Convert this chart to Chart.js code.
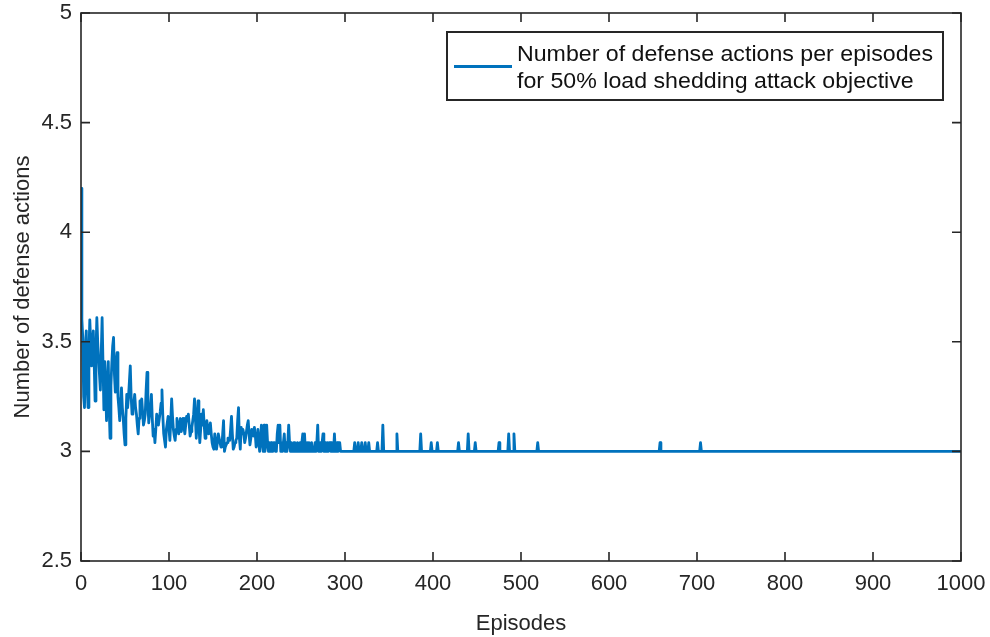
<!DOCTYPE html>
<html lang="en">
<head>
  <meta charset="UTF-8" />
  <title>Defense actions per episode</title>
  <script src="https://cdn.jsdelivr.net/npm/chart.js"></script>
  <style>
    html, body { margin: 0; padding: 0; background: #fff; }
    canvas { display: block; }
  </style>
</head>
<body>
  <canvas id="chart" width="990" height="637"></canvas>
  <script>
    // defense actions, one value per episode, episodes 0..295
    const earlyActions = [
      4.20, 3.60, 3.52, 3.25, 3.20, 3.48, 3.55, 3.30, 3.20, 3.45,
      3.60, 3.50, 3.39, 3.48, 3.55, 3.40, 3.23, 3.45, 3.61, 3.50,
      3.42, 3.35, 3.28, 3.45, 3.61, 3.40, 3.19, 3.41, 3.30, 3.14,
      3.30, 3.41, 3.20, 3.06, 3.30, 3.40, 3.48, 3.52, 3.35, 3.27,
      3.40, 3.45, 3.25, 3.20, 3.14, 3.22, 3.29, 3.20, 3.15, 3.08,
      3.03, 3.15, 3.26, 3.20, 3.25, 3.32, 3.39, 3.25, 3.17, 3.20,
      3.22, 3.26, 3.20, 3.17, 3.12, 3.08, 3.15, 3.23, 3.20, 3.24,
      3.18, 3.12, 3.14, 3.17, 3.28, 3.36, 3.22, 3.13, 3.17, 3.21,
      3.26, 3.15, 3.07, 3.10, 3.04, 3.10, 3.17, 3.14, 3.12, 3.15,
      3.18, 3.22, 3.28, 3.16, 3.08, 3.05, 3.02, 3.10, 3.13, 3.16,
      3.10, 3.05, 3.14, 3.24, 3.16, 3.10, 3.07, 3.05, 3.10, 3.15,
      3.12, 3.08, 3.12, 3.15, 3.09, 3.12, 3.15, 3.11, 3.08, 3.12,
      3.16, 3.14, 3.17, 3.12, 3.07, 3.09, 3.11, 3.14, 3.17, 3.24,
      3.15, 3.06, 3.14, 3.23, 3.12, 3.04, 3.10, 3.17, 3.12, 3.19,
      3.12, 3.06, 3.10, 3.14, 3.11, 3.08, 3.10, 3.13, 3.08, 3.04,
      3.02, 3.01, 3.08, 3.04, 3.01, 3.04, 3.08, 3.06, 3.04, 3.02,
      3.02, 3.08, 3.14, 3.00, 3.02, 3.03, 3.04, 3.06, 3.05, 3.05,
      3.10, 3.16, 3.08, 3.01, 3.02, 3.04, 3.05, 3.06, 3.14, 3.20,
      3.06, 3.01, 3.11, 3.08, 3.10, 3.08, 3.04, 3.06, 3.09, 3.12,
      3.14, 3.08, 3.03, 3.06, 3.10, 3.08, 3.07, 3.11, 3.08, 3.02,
      3.04, 3.10, 3.04, 3.00, 3.06, 3.12, 3.04, 3.00, 3.12, 3.00,
      3.04, 3.12, 3.04, 3.00, 3.04, 3.00, 3.04, 3.00, 3.00, 3.04,
      3.04, 3.00, 3.00, 3.08, 3.12, 3.04, 3.12, 3.00, 3.04, 3.00,
      3.04, 3.08, 3.00, 3.04, 3.00, 3.04, 3.12, 3.04, 3.00, 3.04,
      3.00, 3.00, 3.04, 3.04, 3.00, 3.00, 3.04, 3.00, 3.00, 3.04,
      3.00, 3.04, 3.08, 3.00, 3.08, 3.00, 3.00, 3.04, 3.00, 3.04,
      3.00, 3.00, 3.04, 3.00, 3.00, 3.00, 3.04, 3.00, 3.04, 3.12,
      3.00, 3.00, 3.04, 3.00, 3.04, 3.08, 3.00, 3.00, 3.04, 3.00,
      3.04, 3.00, 3.04, 3.04, 3.00, 3.04, 3.00, 3.00, 3.08, 3.00,
      3.00, 3.04, 3.00, 3.04, 3.04, 3.00
    ];

    // later episodes: flat at 3 with isolated spikes
    const laterEpisodes = [
      310, 311, 312, 314, 315, 316, 318, 319, 320, 322, 323, 324, 326, 327, 328,
      336, 337, 338, 342, 343, 344, 358, 359, 360, 385, 386, 387,
      397, 398, 399, 404, 405, 406, 428, 429, 430, 439, 440, 441,
      447, 448, 449, 474, 475, 476, 485, 486, 487, 491, 492, 493,
      518, 519, 520, 657, 658, 659, 703, 704, 705, 1000
    ];
    const laterActions = [
      3.00, 3.04, 3.00, 3.00, 3.04, 3.00, 3.00, 3.04, 3.00, 3.00, 3.04, 3.00, 3.00, 3.04, 3.00,
      3.00, 3.04, 3.00, 3.00, 3.12, 3.00, 3.00, 3.08, 3.00, 3.00, 3.08, 3.00,
      3.00, 3.04, 3.00, 3.00, 3.04, 3.00, 3.00, 3.04, 3.00, 3.00, 3.08, 3.00,
      3.00, 3.04, 3.00, 3.00, 3.04, 3.00, 3.00, 3.08, 3.00, 3.00, 3.08, 3.00,
      3.00, 3.04, 3.00, 3.00, 3.04, 3.00, 3.00, 3.04, 3.00, 3.00
    ];

    const seriesLabel = ['Number of defense actions per episodes', 'for 50% load shedding attack objective'];
    const xTitle = 'Episodes';
    const yTitle = 'Number of defense actions';

    const points = earlyActions.map((v, i) => ({ x: i, y: v }))
      .concat(laterEpisodes.map((e, i) => ({ x: e, y: laterActions[i] })));

    const axisColor = '#262626';
    const lineColor = '#0072BD';
    const font = 'Liberation Sans, Arial, Helvetica, sans-serif';

    // MATLAB-like box: full frame, inward ticks on all sides, boxed legend
    const boxPlugin = {
      id: 'box',
      afterDraw(chart) {
        const { ctx, chartArea: a, scales: { x, y } } = chart;
        const len = 9;
        ctx.save();
        ctx.strokeStyle = axisColor;
        ctx.lineWidth = 1.6;
        ctx.beginPath();
        x.ticks.forEach(t => {
          const px = x.getPixelForValue(t.value);
          ctx.moveTo(px, a.bottom); ctx.lineTo(px, a.bottom - len);
          ctx.moveTo(px, a.top); ctx.lineTo(px, a.top + len);
        });
        y.ticks.forEach(t => {
          const py = y.getPixelForValue(t.value);
          ctx.moveTo(a.left, py); ctx.lineTo(a.left + len, py);
          ctx.moveTo(a.right, py); ctx.lineTo(a.right - len, py);
        });
        ctx.stroke();
        ctx.strokeRect(a.left, a.top, a.right - a.left, a.bottom - a.top);

        // legend
        const lx = 447, ly = 32, lw = 496, lh = 68;
        ctx.fillStyle = '#fff';
        ctx.fillRect(lx, ly, lw, lh);
        ctx.lineWidth = 2;
        ctx.strokeRect(lx, ly, lw, lh);
        ctx.strokeStyle = lineColor;
        ctx.lineWidth = 2.8;
        ctx.beginPath();
        ctx.moveTo(454, 66.5); ctx.lineTo(512, 66.5);
        ctx.stroke();
        ctx.fillStyle = '#111';
        ctx.font = '22px ' + font;
        ctx.textBaseline = 'alphabetic';
        ctx.textAlign = 'left';
        const target = 416;
        const w = ctx.measureText(seriesLabel[0]).width;
        ctx.translate(517, 0);
        ctx.scale(target / w, 1);
        ctx.fillText(seriesLabel[0], 0, 61);
        ctx.fillText(seriesLabel[1], 0, 88);
        ctx.restore();
      }
    };

    new Chart(document.getElementById('chart'), {
      type: 'line',
      data: {
        datasets: [{
          data: points,
          borderColor: lineColor,
          borderWidth: 2.8,
          borderJoinStyle: 'round',
          borderCapStyle: 'round',
          pointRadius: 0,
          tension: 0,
          fill: false
        }]
      },
      options: {
        responsive: false,
        animation: false,
        layout: { padding: { top: 13, right: 29, left: 0, bottom: 0 } },
        plugins: { legend: { display: false }, tooltip: { enabled: false } },
        scales: {
          x: {
            type: 'linear', min: 0, max: 1000,
            grid: { display: false, drawTicks: false },
            border: { display: false },
            ticks: { stepSize: 100, padding: 10, color: axisColor, font: { size: 22, family: font },
              maxRotation: 0, callback: v => String(v) },
            title: { display: true, text: xTitle, color: axisColor, font: { size: 22, family: font },
              padding: { top: 6, bottom: 0 } },
            afterFit: s => { s.height = 76; s.paddingLeft = 0; s.paddingRight = 0; }
          },
          y: {
            min: 2.5, max: 5,
            grid: { display: false, drawTicks: false },
            border: { display: false },
            ticks: { stepSize: 0.5, padding: 9, color: axisColor, font: { size: 22, family: font },
              callback: v => String(v) },
            title: { display: true, text: yTitle, color: axisColor, font: { size: 22, family: font },
              padding: { top: 10, bottom: 0 } },
            afterFit: s => { s.width = 81; s.paddingTop = 0; s.paddingBottom = 0; }
          }
        }
      },
      plugins: [boxPlugin]
    });
  </script>
</body>
</html>
